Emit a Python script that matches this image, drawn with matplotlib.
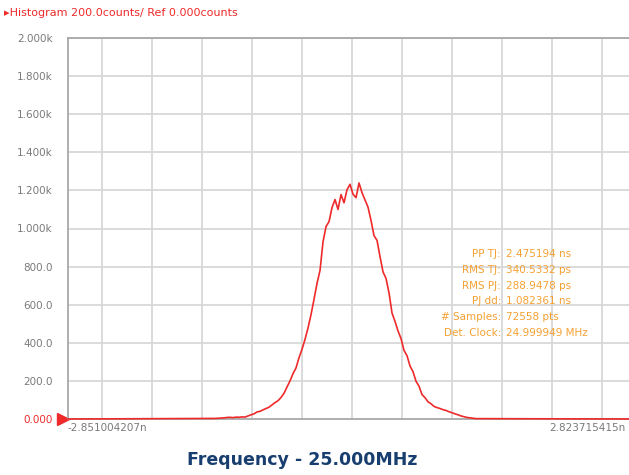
import matplotlib.pyplot as plt
import numpy as np
from matplotlib.transforms import blended_transform_factory

# axis range (ns)
x_min = -2.851004207
x_max = 2.823715415

# histogram counts, one per bin, starting at bin_start (ns)
bin_start = -1.364
bin_width = 0.03035
counts = [
    3, 4, 5, 6, 8, 9, 7, 10, 9, 11, 10, 16, 22, 27, 37, 40, 48, 55, 62, 74,
    86, 96, 113, 135, 168, 200, 238, 268, 322, 366, 418, 478, 548, 628, 712,
    780, 930, 1010, 1036, 1110, 1152, 1100, 1178, 1135, 1204, 1232, 1180,
    1162, 1239, 1188, 1150, 1112, 1042, 962, 938, 852, 772, 738, 662, 556,
    512, 462, 422, 360, 332, 278, 248, 198, 172, 128, 112, 90, 80, 66, 60,
    55, 49, 45, 38, 33, 27, 22, 16, 12, 8, 6, 4, 2,
]

y_ticks = [0, 200, 400, 600, 800, 1000, 1200, 1400, 1600, 1800, 2000]
y_labels = ["0.000", "200.0", "400.0", "600.0", "800.0", "1.000k", "1.200k",
            "1.400k", "1.600k", "1.800k", "2.000k"]

stat_names = ["PP TJ:", "RMS TJ:", "RMS PJ:", "PJ dd:", "# Samples:", "Det. Clock:"]
stat_values = ["2.475194 ns", "340.5332 ps", "288.9478 ps", "1.082361 ns",
               "72558 pts", "24.999949 MHz"]

RED = "#ee2a2a"
GRID = "#d8d8d8"
TXT = "#7a7a7a"
ORANGE = "#f5a032"
NAVY = "#173e6e"

W, H = 629, 475
fig = plt.figure(figsize=(W / 100, H / 100), dpi=100)
fig.patch.set_facecolor("white")
ax = fig.add_axes([68 / W, 1 - 419 / H, (629 - 68) / W, (419 - 38) / H])

px_ns = (x_max - x_min) / (629 - 68)
grid_x = x_min + (34 + 50 * np.arange(11)) * px_ns
for gx in grid_x:
    ax.axvline(gx, color=GRID, lw=1.3, zorder=0)
for gy in y_ticks[1:]:
    ax.axhline(gy, color=GRID, lw=1.3, zorder=0)

xs = bin_start + bin_width * np.arange(len(counts))
xs = np.concatenate([[x_min], xs, [x_max]])
ys = np.concatenate([[0], counts, [0]])
ax.plot(xs, ys, color=RED, lw=1.2, zorder=3, clip_on=False)

ax.set_xlim(x_min, x_max)
ax.set_ylim(0, 2000)
ax.set_xticks([])
ax.set_yticks(y_ticks)
ax.set_yticklabels(y_labels, fontsize=7.5, color=TXT, family="DejaVu Sans")
ax.get_yticklabels()[0].set_color(RED)
ax.tick_params(axis="y", length=0, pad=11)
for s in ["left", "top", "bottom"]:
    ax.spines[s].set_color("#a8a8a8")
    ax.spines[s].set_linewidth(1.3)
ax.spines["right"].set_visible(False)

# red marker at the zero level
tr = blended_transform_factory(fig.transFigure, ax.transData)
ax.plot([63 / W], [0], marker=">", ms=9, color=RED, transform=tr, clip_on=False)

fig.text(68 / W, 1 - 428 / H, "-2.851004207n", fontsize=7.5, color=TXT,
         ha="left", va="center")
fig.text(626 / W, 1 - 428 / H, "2.823715415n", fontsize=7.5, color=TXT,
         ha="right", va="center")

fig.text(4 / W, 1 - 13 / H, "\u25b8Histogram 200.0counts/ Ref 0.000counts",
         fontsize=8, color=RED, ha="left", va="center")

for i, (n, v) in enumerate(zip(stat_names, stat_values)):
    y = 1 - (254 + 15.8 * i) / H
    fig.text(501 / W, y, n, fontsize=7.5, color=ORANGE, ha="right", va="center")
    fig.text(506 / W, y, v, fontsize=7.5, color=ORANGE, ha="left", va="center")

fig.text(302 / W, 1 - 460 / H, "Frequency - 25.000MHz", fontsize=12.5,
         fontweight="bold", color=NAVY, ha="center", va="center",
         family="DejaVu Sans")

fig.savefig("out.png", dpi=100)
